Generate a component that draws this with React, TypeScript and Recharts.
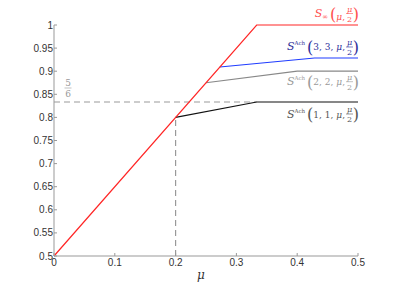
import { LineChart, Line, XAxis, YAxis, ReferenceDot } from "recharts";

// break points (mu, S)
const muInf = [0, 1 / 3, 0.5];
const sInf = [0.5, 1, 1];
const mu11 = [0.2, 1 / 3, 0.5];
const s11 = [0.8, 5 / 6, 5 / 6];
const mu22 = [0.25, 0.4, 0.5];
const s22 = [0.875, 0.9, 0.9];
const mu33 = [0.2727, 0.4286, 0.5];
const s33 = [0.9091, 0.9286, 0.9286];
const guideH = { mu: [0, 1 / 3], s: [5 / 6, 5 / 6] };
const guideV = { mu: [0.2, 0.2], s: [0.5, 0.8] };

const xTicks = [0, 0.1, 0.2, 0.3, 0.4, 0.5];
const yTicks = [0.5, 0.55, 0.6, 0.65, 0.7, 0.75, 0.8, 0.85, 0.9, 0.95, 1];

const zip = (xs: number[], ys: number[]) => xs.map((x, i) => ({ mu: x, s: ys[i] }));

const SERIF = "'DejaVu Serif', 'Liberation Serif', serif";
const SANS = "'Liberation Sans', Arial, sans-serif";

function mathLabel(color: string, args: string, inf: boolean, dy: number) {
  return (props: any) => {
    const vb = props.viewBox;
    const R = vb.x + vb.width / 2 + 1;
    const cy = vb.y + vb.height / 2 + dy;
    return (
      <g fill={color} fontFamily={SERIF}>
        <text x={R - 14} y={cy + 3.5} textAnchor="end" fontSize={9}>
          <tspan fontStyle="italic" fontSize={11}>S</tspan>
          {inf ? (
            <tspan fontSize={7} dy={2}>∞</tspan>
          ) : (
            <tspan fontSize={5.5} dy={-5}>Ach</tspan>
          )}
          <tspan fontSize={16} dy={inf ? 0.5 : 7.5} dx={2}>(</tspan>
          <tspan dy={-2.5}>{args}</tspan>
          <tspan fontStyle="italic">μ</tspan>
          <tspan>, </tspan>
        </text>
        <text x={R - 9.5} y={cy - 2} textAnchor="middle" fontSize={8} fontStyle="italic">μ</text>
        <line x1={R - 13} x2={R - 6} y1={cy} y2={cy} stroke={color} strokeWidth={0.6} />
        <text x={R - 9.5} y={cy + 8} textAnchor="middle" fontSize={8}>2</text>
        <text x={R} y={cy + 6} textAnchor="end" fontSize={16}>)</text>
      </g>
    );
  };
}

function fiveSixths(props: any) {
  const vb = props.viewBox;
  const x = vb.x + 14;
  const cy = vb.y - 14;
  return (
    <g fill="#999" fontFamily={SERIF} fontSize={9}>
      <text x={x} y={cy - 2} textAnchor="middle">5</text>
      <line x1={x - 3.5} x2={x + 3.5} y1={cy} y2={cy} stroke="#999" strokeWidth={0.6} />
      <text x={x} y={cy + 9} textAnchor="middle">6</text>
    </g>
  );
}

export default function App() {
  return (
    <div style={{ position: "absolute", left: 0, top: 0, background: "#fff" }}>
      <LineChart width={399} height={291} margin={{ top: 25, right: 41, left: 0, bottom: 0 }}>
        <XAxis
          type="number"
          dataKey="mu"
          domain={[0, 0.5]}
          ticks={xTicks}
          tickFormatter={(v) => String(+Number(v).toFixed(2))}
          height={35}
          stroke="#999"
          tickSize={-3}
          tickMargin={6}
          tick={{ fill: "#333", fontSize: 10, fontFamily: SANS }}
          label={{
            content: (p: any) => (
              <text
                x={p.viewBox.x + p.viewBox.width / 2 - 9}
                y={p.viewBox.y + 23}
                fontFamily={SERIF}
                fontStyle="italic"
                fontSize={12}
                fill="#333"
              >
                μ
              </text>
            ),
          }}
        />
        <YAxis
          type="number"
          domain={[0.5, 1]}
          ticks={yTicks}
          tickFormatter={(v) => String(+Number(v).toFixed(2))}
          width={54}
          stroke="#999"
          tickSize={-3}
          tickMargin={4}
          tick={{ fill: "#333", fontSize: 10, fontFamily: SANS }}
        />
        <Line data={zip(guideH.mu, guideH.s)} dataKey="s" stroke="#999" strokeWidth={1.2} strokeDasharray="6 4" dot={false} isAnimationActive={false} />
        <Line data={zip(guideV.mu, guideV.s)} dataKey="s" stroke="#999" strokeWidth={1.2} strokeDasharray="6 4" dot={false} isAnimationActive={false} />
        <Line data={zip(mu11, s11)} dataKey="s" stroke="#111" strokeWidth={1.2} dot={false} isAnimationActive={false} />
        <Line data={zip(mu22, s22)} dataKey="s" stroke="#888" strokeWidth={1.2} dot={false} isAnimationActive={false} />
        <Line data={zip(mu33, s33)} dataKey="s" stroke="#1f3cff" strokeWidth={1.2} dot={false} isAnimationActive={false} />
        <Line data={zip(muInf, sInf)} dataKey="s" stroke="#ff2626" strokeWidth={1.2} dot={false} isAnimationActive={false} />
        <ReferenceDot x={0.5} y={sInf[2]} r={0} stroke="none" fill="none" label={{ content: mathLabel("#ff5050", "", true, -11.5) }} />
        <ReferenceDot x={0.5} y={s33[2]} r={0} stroke="none" fill="none" label={{ content: mathLabel("#30309a", "3, 3, ", false, -11) }} />
        <ReferenceDot x={0.5} y={s22[2]} r={0} stroke="none" fill="none" label={{ content: mathLabel("#9a9a9a", "2, 2, ", false, 10.5) }} />
        <ReferenceDot x={0.5} y={s11[2]} r={0} stroke="none" fill="none" label={{ content: mathLabel("#555", "1, 1, ", false, 12) }} />
        <ReferenceDot x={0} y={5 / 6} r={0} stroke="none" fill="none" label={{ content: fiveSixths }} />
      </LineChart>
    </div>
  );
}
